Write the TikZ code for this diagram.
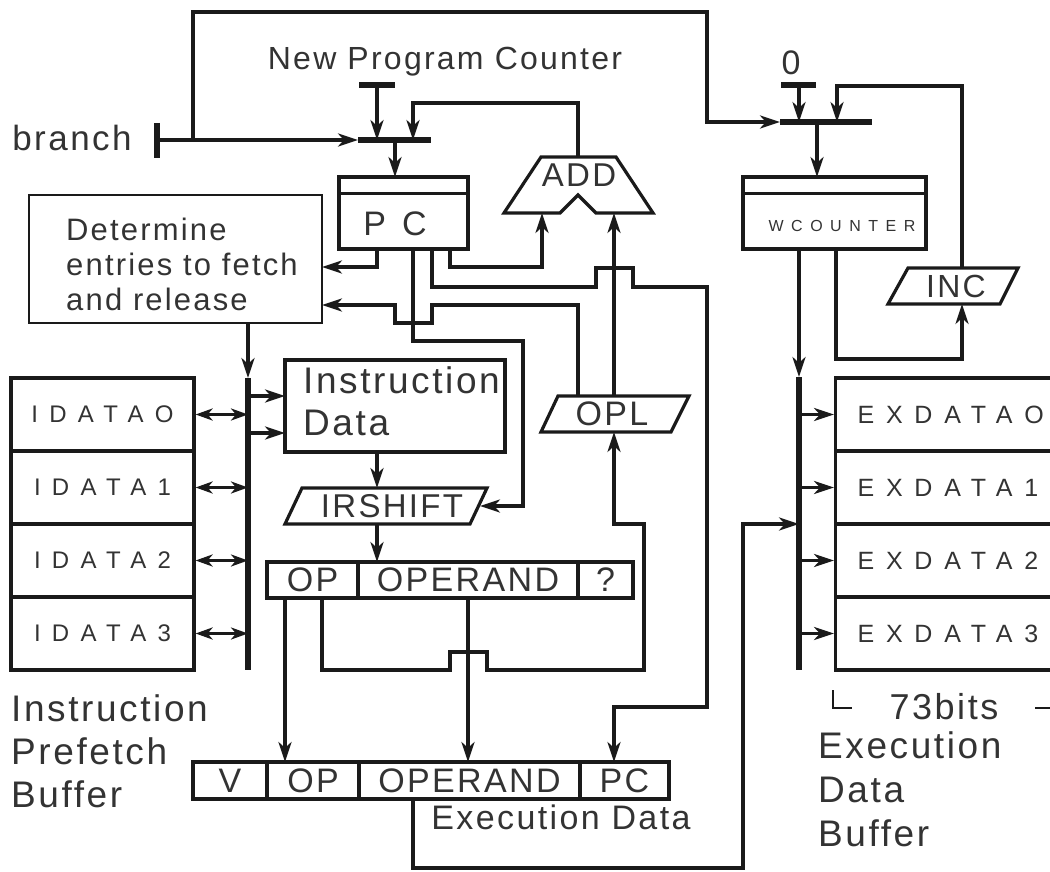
\documentclass[tikz,border=0pt]{standalone}
\usepackage{fontspec}
\setmainfont[LetterSpace=7]{Liberation Sans}
\newfontfamily\widefont[LetterSpace=47]{Liberation Sans}
\usetikzlibrary{arrows.meta,positioning}

\definecolor{ink}{HTML}{1A1A1A}
\definecolor{txt}{HTML}{333333}
\newcommand{\setfs}[2]{\fontsize{#1}{#2}\selectfont}

\tikzset{
  wire/.style={draw=ink, line width=3.2pt},
  arr/.style={wire, -{Stealth[length=20pt,width=13pt,inset=6pt]}},
  darr/.style={wire, {Stealth[length=17pt,width=12pt,inset=5pt]}-{Stealth[length=17pt,width=12pt,inset=5pt]}},
  bar/.style={draw=ink, line width=6pt},
  reg/.style={draw=ink, line width=3.2pt, inner sep=0pt},
  lbl/.style={text=txt, inner sep=0pt},
}

\begin{document}
\begin{tikzpicture}[x=1pt, y=-1pt]
  \useasboundingbox (0,0) rectangle (1050,872);

  % program counter
  \node[lbl, font=\setfs{35}{40}] (branch) at (72,138) {branch};
  \draw[bar] (157,123) -- (157,158);
  \coordinate (pcmux) at (358,140);
  \draw[arr] (157,140) -- (pcmux);
  \draw[arr] (193,140) |- (707,12) |- (780,122);
  \draw[bar] (pcmux) -- (431,140);
  \node[lbl, font=\setfs{32}{36}] (npc) at (445,62) {New Program Counter};
  \draw[bar] (359,85) -- (395,85);
  \draw[arr] (377,85) -- (377,140);

  \node[reg, minimum width=129pt, minimum height=72pt] (pc) at (403.5,213) {};
  \draw[wire] ([yshift=-18pt]pc.north west) -- ([yshift=-18pt]pc.north east);
  \node[lbl, font=\widefont\setfs{34}{34}] (pclbl) at (395,224) {PC};
  \draw[arr] (395,140) -- (395,177);

  % adder
  \draw[wire] (541,157) -- (616,157) -- (653,213) -- (596,213) -- (578,195)
    -- (560,213) -- (504,213) -- cycle;
  \node[lbl, font=\setfs{33}{33}] (add) at (579,175) {ADD};
  \draw[arr] (578,157) |- (413,103) -- (413,140);

  \node[reg, line width=1.8pt, minimum width=293pt, minimum height=128pt] (det) at (175.5,259) {};
  \node[lbl, font=\setfs{31}{35}, align=left, anchor=west] (dettxt) at (66,264)
    {Determine\\entries to fetch\\and release};

  \draw[arr] (377,249) |- (322,267);
  \draw[arr] (413,249) |- (523,341) |- (480,506);
  \draw[arr] (432,249) |- (596,287) |- (633,268) |- (707,287) |- (614,707) -- (614,762);
  \draw[arr] (450,249) |- (542,267) -- (542,213);
  \draw[arr] (578,396) |- (432,305) |- (395,323) |- (322,305);

  % operand latch
  \draw[wire] (558,396) -- (689,396) -- (671,432) -- (541,432) -- cycle;
  \node[lbl, font=\setfs{34}{34}] (opl) at (612,414) {OPL};
  \draw[arr] (614,396) -- (614,213);

  % instruction prefetch buffer
  \draw[arr] (248,323) -- (248,378);
  \draw[bar] (248,378) -- (248,670);
  \coordinate (ibus) at (248,378);
  \foreach \i/\t in {0/IDATAO,1/IDATA1,2/IDATA2,3/IDATA3}{
    \node[reg, minimum width=183pt, minimum height=73pt, font=\widefont\setfs{24}{24}, text=txt]
      (idata\i) at (102.5,414.5+73*\i) {\t};
    \draw[darr] (idata\i.east) -- (idata\i.east -| ibus);
  }
  \node[lbl, font=\setfs{37}{43}, align=left, anchor=west] (ipb) at (11,751)
    {Instruction\\Prefetch\\Buffer};

  \node[reg, minimum width=220pt, minimum height=92pt] (idat) at (395,406) {};
  \node[lbl, font=\setfs{37}{42}, align=left, anchor=west] (idattxt) at (303,401)
    {Instruction\\Data};
  \draw[arr] (248,396) -- (285,396);
  \draw[arr] (248,433) -- (285,433);

  \draw[wire] (302,488) -- (487,488) -- (470,524) -- (285,524) -- cycle;
  \node[lbl, font=\setfs{33}{33}] (irshift) at (392,506) {IRSHIFT};
  \draw[arr] (377,452) -- (377,488);
  \draw[arr] (377,524) -- (377,562);

  \node[reg, minimum width=91pt, minimum height=36pt, font=\setfs{34}{34}, text=txt] (rop) at (312.5,580) {OP};
  \node[reg, minimum width=220pt, minimum height=36pt, font=\setfs{34}{34}, text=txt] (roperand) at (468,580) {OPERAND};
  \node[reg, minimum width=55pt, minimum height=36pt, font=\setfs{34}{34}, text=txt] (rq) at (605.5,580) {?};

  \draw[arr] (285,598) -- (285,762);
  \draw[arr] (468,598) -- (468,762);
  \draw[arr] (322,598) |- (450,670) |- (487,652) |- (644,670) |- (614,524) -- (614,432);

  % execution data
  \node[reg, minimum width=74pt, minimum height=37pt, font=\setfs{34}{34}, text=txt] (ev) at (230,780.5) {V};
  \node[reg, minimum width=92pt, minimum height=37pt, font=\setfs{34}{34}, text=txt] (eop) at (313,780.5) {OP};
  \node[reg, minimum width=221pt, minimum height=37pt, font=\setfs{34}{34}, text=txt] (eoperand) at (469.5,780.5) {OPERAND};
  \node[reg, minimum width=89pt, minimum height=37pt, font=\setfs{34}{34}, text=txt] (epc) at (624.5,780.5) {PC};
  \node[lbl, font=\setfs{34}{34}] (exlbl) at (561,817) {Execution Data};
  \draw[arr] (413,799) |- (743,868) |- (799,524);

  % write counter
  \node[lbl, font=\setfs{34}{34}] (zero) at (791,63) {0};
  \draw[bar] (781,85) -- (816,85);
  \draw[arr] (799,85) -- (799,122);
  \draw[bar] (780,122) -- (872,122);
  \draw[arr] (962,268) |- (837,86) -- (837,122);
  \draw[arr] (817,122) -- (817,177);

  \node[reg, minimum width=183pt, minimum height=72pt] (wc) at (834.5,213) {};
  \draw[wire] ([yshift=-18pt]wc.north west) -- ([yshift=-18pt]wc.north east);
  \node[lbl, font=\widefont\setfs{16}{16}] (wclbl) at (842,226) {WCOUNTER};

  \draw[wire] (908,268) -- (1018,268) -- (1000,304) -- (888,304) -- cycle;
  \node[lbl, font=\setfs{32}{32}] (inc) at (956,286) {INC};
  \draw[arr] (836,249) |- (962,359) -- (962,304);
  \draw[arr] (799,249) -- (799,377);
  \draw[bar] (799,377) -- (799,670);
  \coordinate (xbus) at (799,377);

  % execution data buffer
  \foreach \i/\t in {0/EXDATAO,1/EXDATA1,2/EXDATA2,3/EXDATA3}{
    \node[reg, minimum width=230pt, minimum height=73pt, text width=186pt, inner xsep=22pt,
      align=left, font=\widefont\setfs{25}{25}, text=txt, anchor=west]
      (exdata\i) at (834,414.5+73*\i) {\t};
    \draw[arr] (exdata\i.west -| xbus) -- (exdata\i.west);
  }
  \draw[draw=ink, line width=2.4pt] (833,690) |- (852,708);
  \draw[draw=ink, line width=2.4pt] (1035,708) -- (1050,708);
  \node[lbl, font=\setfs{36}{36}] (bits) at (944,707) {73bits};
  \node[lbl, font=\setfs{37}{44}, align=left, anchor=west] (edb) at (818,789)
    {Execution\\Data\\Buffer};
\end{tikzpicture}
\end{document}
